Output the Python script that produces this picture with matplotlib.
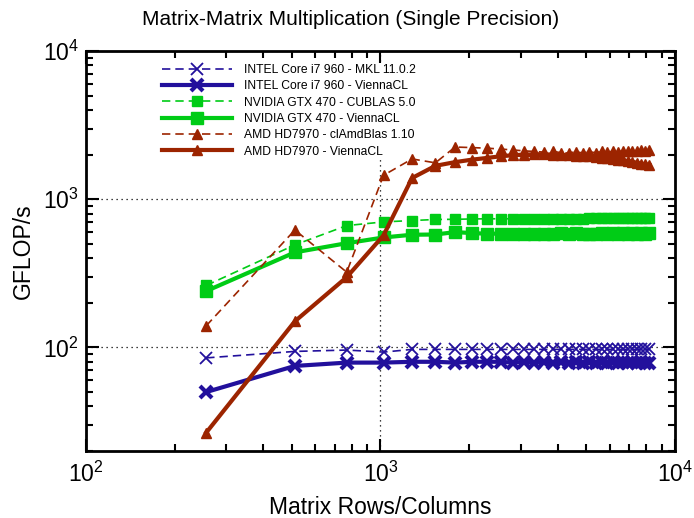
import matplotlib
matplotlib.use("Agg")
import matplotlib.pyplot as plt
from matplotlib.ticker import LogLocator, LogFormatterSciNotation, NullFormatter

plt.rcParams['font.family'] = ['Liberation Sans', 'DejaVu Sans']

# Matrix sizes: multiples of 256 up to 8192
sizes = [256 * k for k in range(1, 33)]

intel_mkl = [85, 94, 96, 93, 97, 97, 97, 97, 97, 97, 97, 97, 97, 97, 97, 97,
             97, 97, 97, 97, 97, 97, 97, 97, 97, 97, 97, 97, 97, 97, 97, 97]
intel_vcl = [50, 75, 79, 79, 80, 80, 79, 80, 80, 80, 79, 80, 79, 80, 79, 80,
             79, 80, 79, 80, 79, 80, 79, 80, 79, 80, 79, 80, 79, 80, 79, 79]
nvidia_cublas = [262, 492, 664, 703, 718, 730, 732, 736, 738, 738, 738, 738,
                 740, 740, 740, 740, 740, 740, 740, 742, 742, 742, 742, 742,
                 742, 742, 742, 742, 742, 742, 742, 742]
nvidia_vcl = [240, 438, 505, 552, 576, 578, 600, 591, 585, 586, 584, 586,
              582, 586, 580, 590, 582, 588, 580, 586, 584, 590, 582, 588,
              584, 590, 582, 588, 584, 590, 584, 588]
amd_clamdblas = [140, 620, 322, 1450, 1870, 1760, 2250, 2230, 2210, 2180,
                 2150, 2120, 2100, 2080, 2110, 2060, 2050, 2090, 2050, 2090,
                 2060, 2100, 2070, 2110, 2090, 2120, 2100, 2130, 2110, 2150,
                 2130, 2160]
amd_vcl = [26.6, 150, 298, 570, 1390, 1680, 1780, 1850, 1900, 1950, 1980,
           2000, 2010, 2010, 2000, 1990, 1980, 1970, 1960, 1950, 1930, 1910,
           1890, 1870, 1850, 1830, 1810, 1790, 1760, 1740, 1720, 1700]

labels = [
    "INTEL Core i7 960 - MKL 11.0.2",
    "INTEL Core i7 960 - ViennaCL",
    "NVIDIA GTX 470 - CUBLAS 5.0",
    "NVIDIA GTX 470 - ViennaCL",
    "AMD HD7970 - clAmdBlas 1.10",
    "AMD HD7970 - ViennaCL",
]

blue = '#22109c'
green = '#00cc16'
brown = '#9c2400'

fig = plt.figure(figsize=(6.94, 5.18), dpi=100)
ax = fig.add_axes([0.1239, 0.1293, 0.8487, 0.7722])
ax.set_axisbelow(True)

ax.plot(sizes, intel_mkl, '--', color=blue, lw=1.2, marker='x', ms=9, mew=1.3,
        dashes=(5, 3), label=labels[0])
ax.plot(sizes, intel_vcl, '-', color=blue, lw=3, marker='x', ms=9, mew=3,
        label=labels[1])
ax.plot(sizes, nvidia_cublas, '--', color=green, lw=1.2, marker='s', ms=7,
        dashes=(5, 3), label=labels[2])
ax.plot(sizes, nvidia_vcl, '-', color=green, lw=3, marker='s', ms=8.5,
        label=labels[3])
ax.plot(sizes, amd_clamdblas, '--', color=brown, lw=1.2, marker='^', ms=7,
        dashes=(5, 3), label=labels[4])
ax.plot(sizes, amd_vcl, '-', color=brown, lw=3, marker='^', ms=7,
        label=labels[5])

ax.set_xscale('log')
ax.set_yscale('log')
ax.set_xlim(100, 10000)
ax.set_ylim(20, 10000)

for axis in (ax.xaxis, ax.yaxis):
    axis.set_major_locator(LogLocator(base=10, numticks=10))
    axis.set_minor_locator(LogLocator(base=10, subs=range(2, 10), numticks=20))
    axis.set_major_formatter(LogFormatterSciNotation())
    axis.set_minor_formatter(NullFormatter())

ax.tick_params(which='both', direction='in', top=True, right=True,
               labelsize=16.5, width=1.5, color='black')
ax.tick_params(which='major', length=9)
ax.tick_params(which='minor', length=5)
ax.tick_params(axis='x', which='major', pad=8)
ax.tick_params(axis='y', which='major', pad=5)
for s in ax.spines.values():
    s.set_linewidth(2)
    s.set_zorder(3)

ax.grid(which='major', linestyle=(0, (1, 3)), color='black', linewidth=0.9)

ax.set_xlabel("Matrix Rows/Columns", fontsize=16.5, labelpad=6)
ax.set_ylabel("GFLOP/s", fontsize=16.5, labelpad=6)
fig.text(0.505, 0.963, "Matrix-Matrix Multiplication (Single Precision)",
         ha='center', va='center', fontsize=15)

# Opaque key box hides the grid line behind it, but sits under the data
leg = ax.legend(loc='upper left', bbox_to_anchor=(0.127, 0.971), frameon=True,
                fancybox=False, facecolor='white', edgecolor='none',
                framealpha=1.0, fontsize=8.7, handlelength=5.8,
                handletextpad=1.0, labelspacing=0.36, borderpad=0.1,
                borderaxespad=0)
leg.set_zorder(1.5)

fig.savefig("out.png", dpi=100)
